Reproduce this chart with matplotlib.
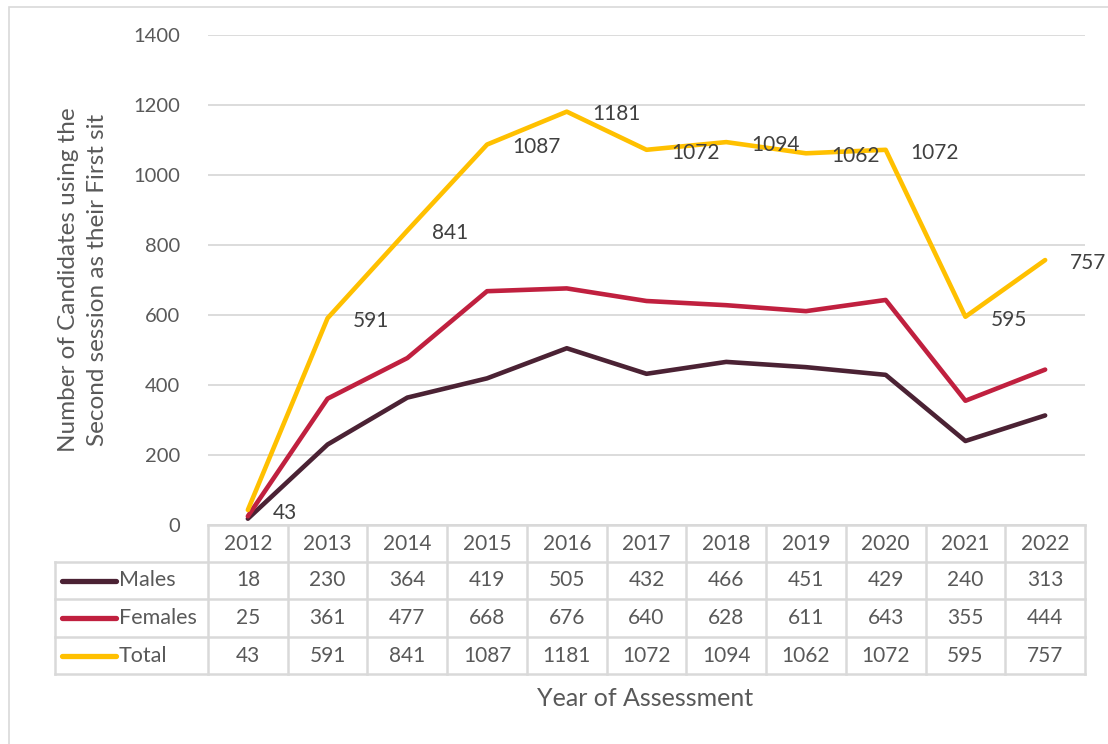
import numpy as np
import matplotlib.pyplot as plt
from matplotlib.patches import Rectangle
from matplotlib.lines import Line2D

plt.rcParams['font.family'] = ['Lato', 'DejaVu Sans']

years = ['2012', '2013', '2014', '2015', '2016', '2017', '2018', '2019', '2020', '2021', '2022']
males = [18, 230, 364, 419, 505, 432, 466, 451, 429, 240, 313]
females = [25, 361, 477, 668, 676, 640, 628, 611, 643, 355, 444]
total = [43, 591, 841, 1087, 1181, 1072, 1094, 1062, 1072, 595, 757]

names = ['Males', 'Females', 'Total']
series = [males, females, total]
colors = ['#4B2234', '#C0203F', '#FFC000']
grey = '#595959'
linecol = '#D9D9D9'

W, H = 1108, 744
fig = plt.figure(figsize=(W / 100, H / 100), dpi=100)
# outer chart frame
fig.patches.append(Rectangle((9 / W, -0.1), 1.2, 1 - 7 / H + 0.1, transform=fig.transFigure,
                             fill=False, ec=linecol, lw=1.2))

x0, x1, yb, yt = 208, 1085, 525, 35
ax = fig.add_axes([x0 / W, 1 - yb / H, (x1 - x0) / W, (yb - yt) / H])
x = np.arange(len(years))
for vals, c in zip(series, colors):
    ax.plot(x, vals, color=c, lw=3.3, solid_capstyle='round', solid_joinstyle='round', zorder=3)

for xi, v in zip(x, total):
    ax.annotate(str(v), (xi, v), xytext=(18, -2), textcoords='offset points',
                ha='left', va='center', fontsize=15, color='#404040')

ax.set_xlim(-0.5, len(years) - 0.5)
ax.set_ylim(0, 1400)
ax.set_yticks(range(0, 1401, 200))
ax.yaxis.grid(True, color=linecol, lw=1.3)
ax.set_axisbelow(True)
ax.set_xticks([])
for s in ax.spines.values():
    s.set_visible(False)
ax.tick_params(axis='y', length=0, pad=20, labelsize=14.5, labelcolor=grey)
ax.set_ylabel('Number of Candidates using the\nSecond session as their First sit',
              fontsize=17.5, color=grey, labelpad=18, linespacing=1.5)

# data table under the plot
tr = ax.get_xaxis_transform()
ph = yb - yt
rows_px = [525, 562, 599, 637, 674]
ry = [(yb - r) / ph for r in rows_px]
left_lab = (55 - x0) / ((x1 - x0) / len(years)) - 0.5
kw = dict(transform=tr, clip_on=False, color=linecol, lw=1.8)

# horizontal lines
ax.add_line(Line2D([-0.5, 10.5], [ry[0], ry[0]], **kw))
for r in ry[1:]:
    ax.add_line(Line2D([left_lab, 10.5], [r, r], **kw))
# vertical lines
for i in range(len(years) + 1):
    xv = i - 0.5
    ax.add_line(Line2D([xv, xv], [ry[0], ry[-1]], **kw))
ax.add_line(Line2D([left_lab, left_lab], [ry[1], ry[-1]], **kw))

for i, yr in enumerate(years):
    ax.text(i, (ry[0] + ry[1]) / 2, yr, transform=tr, ha='center', va='center',
            fontsize=15, color=grey, clip_on=False)
upx = len(years) / (x1 - x0)
for j, (nm, vals, c) in enumerate(zip(names, series, colors)):
    ym = (ry[j + 1] + ry[j + 2]) / 2
    ax.add_line(Line2D([(62 - x0) * upx - 0.5, (116 - x0) * upx - 0.5], [ym, ym],
                       transform=tr, clip_on=False, color=c, lw=3.8, solid_capstyle='round'))
    ax.text((119 - x0) * upx - 0.5, ym, nm, transform=tr, ha='left', va='center',
            fontsize=15.5, color=grey, clip_on=False)
    for i, v in enumerate(vals):
        ax.text(i, ym, str(v), transform=tr, ha='center', va='center',
                fontsize=15, color=grey, clip_on=False)

fig.text(645 / W, 1 - 698 / H, 'Year of Assessment', ha='center', va='center',
         fontsize=18, color=grey)

fig.savefig('out.png', dpi=100)
